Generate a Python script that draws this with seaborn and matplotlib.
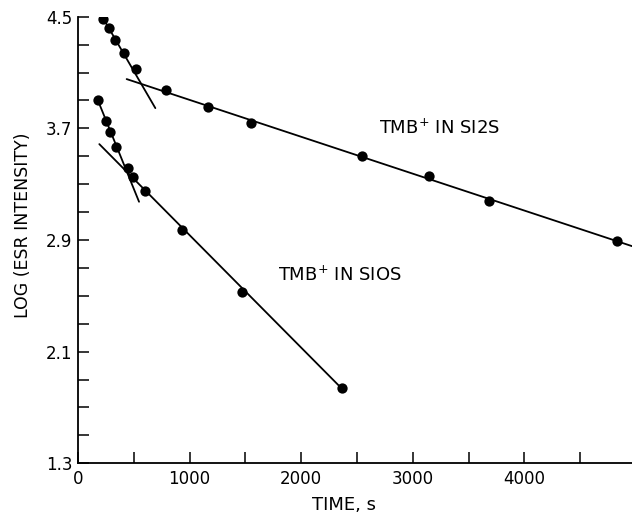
import matplotlib
matplotlib.use("Agg")
import matplotlib.pyplot as plt
import seaborn as sns
import pandas as pd
from matplotlib.ticker import MultipleLocator, FixedLocator

# --- data ---
si2s_time = [227, 278, 329, 412, 520, 789, 1165, 1548, 2545, 3145, 3683, 4830]
si2s_log = [4.484, 4.419, 4.333, 4.238, 4.125, 3.975, 3.855, 3.737, 3.504, 3.360, 3.181, 2.894]

si0s_time = [177, 251, 287, 338, 451, 496, 603, 932, 1472, 2363]
si0s_log = [3.903, 3.750, 3.676, 3.566, 3.413, 3.349, 3.252, 2.972, 2.529, 1.836]

# fitted straight lines (end points)
si2s_fast_t = [224, 693]
si2s_fast_v = [4.49, 3.845]
si2s_slow_t = [436, 4964]
si2s_slow_v = [4.053, 2.856]
si0s_fast_t = [177, 547]
si0s_fast_v = [3.903, 3.174]
si0s_slow_t = [191, 2363]
si0s_slow_v = [3.587, 1.836]

x_ticks = [0, 1000, 2000, 3000, 4000]
y_ticks = [1.3, 2.1, 2.9, 3.7, 4.5]
y_minor = [1.5, 1.7, 1.9, 2.3, 2.5, 2.7, 3.1, 3.3, 3.5, 3.9, 4.1, 4.3]
label_si2s = "TMB$^{+}$ IN SI2S"
label_si0s = "TMB$^{+}$ IN SIOS"

sns.set_style("ticks")
plt.rcParams['font.family'] = ['DejaVu Sans']
plt.rcParams['text.color'] = 'black'
plt.rcParams['axes.labelcolor'] = 'black'
plt.rcParams['xtick.color'] = 'black'
plt.rcParams['ytick.color'] = 'black'

fig = plt.figure(figsize=(6.32, 5.14), dpi=100)
W, H = 632, 514
left, right, top, bottom = 78, 632, 16.7, 463.3
ax = fig.add_axes([left / W, 1 - bottom / H, (right - left) / W, (bottom - top) / H])

pts = pd.concat([
    pd.DataFrame({"t": si2s_time, "v": si2s_log, "s": "SI2S"}),
    pd.DataFrame({"t": si0s_time, "v": si0s_log, "s": "SI0S"}),
])
sns.scatterplot(data=pts, x="t", y="v", color="black", s=55, edgecolor="black",
                linewidth=0, ax=ax, legend=False, zorder=3)

for tt, vv in [(si2s_fast_t, si2s_fast_v), (si2s_slow_t, si2s_slow_v),
               (si0s_fast_t, si0s_fast_v), (si0s_slow_t, si0s_slow_v)]:
    df = pd.DataFrame({"t": tt, "v": vv})
    sns.lineplot(data=df, x="t", y="v", color="black", linewidth=1.3,
                 estimator=None, sort=False, ax=ax, legend=False)

ax.set_xlim(0, 4964)
ax.set_ylim(1.3, 4.5)
ax.set_xticks(x_ticks)
ax.set_xticklabels([str(x) for x in x_ticks])
ax.set_yticks(y_ticks)
ax.set_yticklabels([f"{y:.1f}" for y in y_ticks])
ax.xaxis.set_minor_locator(MultipleLocator(500))
ax.yaxis.set_minor_locator(FixedLocator(y_minor))
ax.tick_params(axis="both", which="both", direction="in", length=8, width=1.1,
               labelsize=12, colors="black")
ax.tick_params(axis="y", pad=4)
ax.tick_params(axis="x", pad=5)

sns.despine(ax=ax)
for sp in ["left", "bottom"]:
    ax.spines[sp].set_linewidth(1.3)
    ax.spines[sp].set_color("black")

ax.set_xlabel("TIME, s", fontsize=13, color="black")
ax.set_ylabel("LOG (ESR INTENSITY)", fontsize=12.5, color="black")
ax.xaxis.set_label_coords((344 - left) / (right - left), -(505 - bottom) / (bottom - top))
ax.yaxis.set_label_coords((23 - left) / (right - left), (bottom - 225) / (bottom - top))
ax.xaxis.label.set_va("center")
ax.yaxis.label.set_va("center")

ax.text(2697, 3.659, label_si2s, fontsize=13, ha="left", va="baseline", color="black")
ax.text(1792, 2.605, label_si0s, fontsize=13, ha="left", va="baseline", color="black")

fig.savefig("out.png", dpi=100)
